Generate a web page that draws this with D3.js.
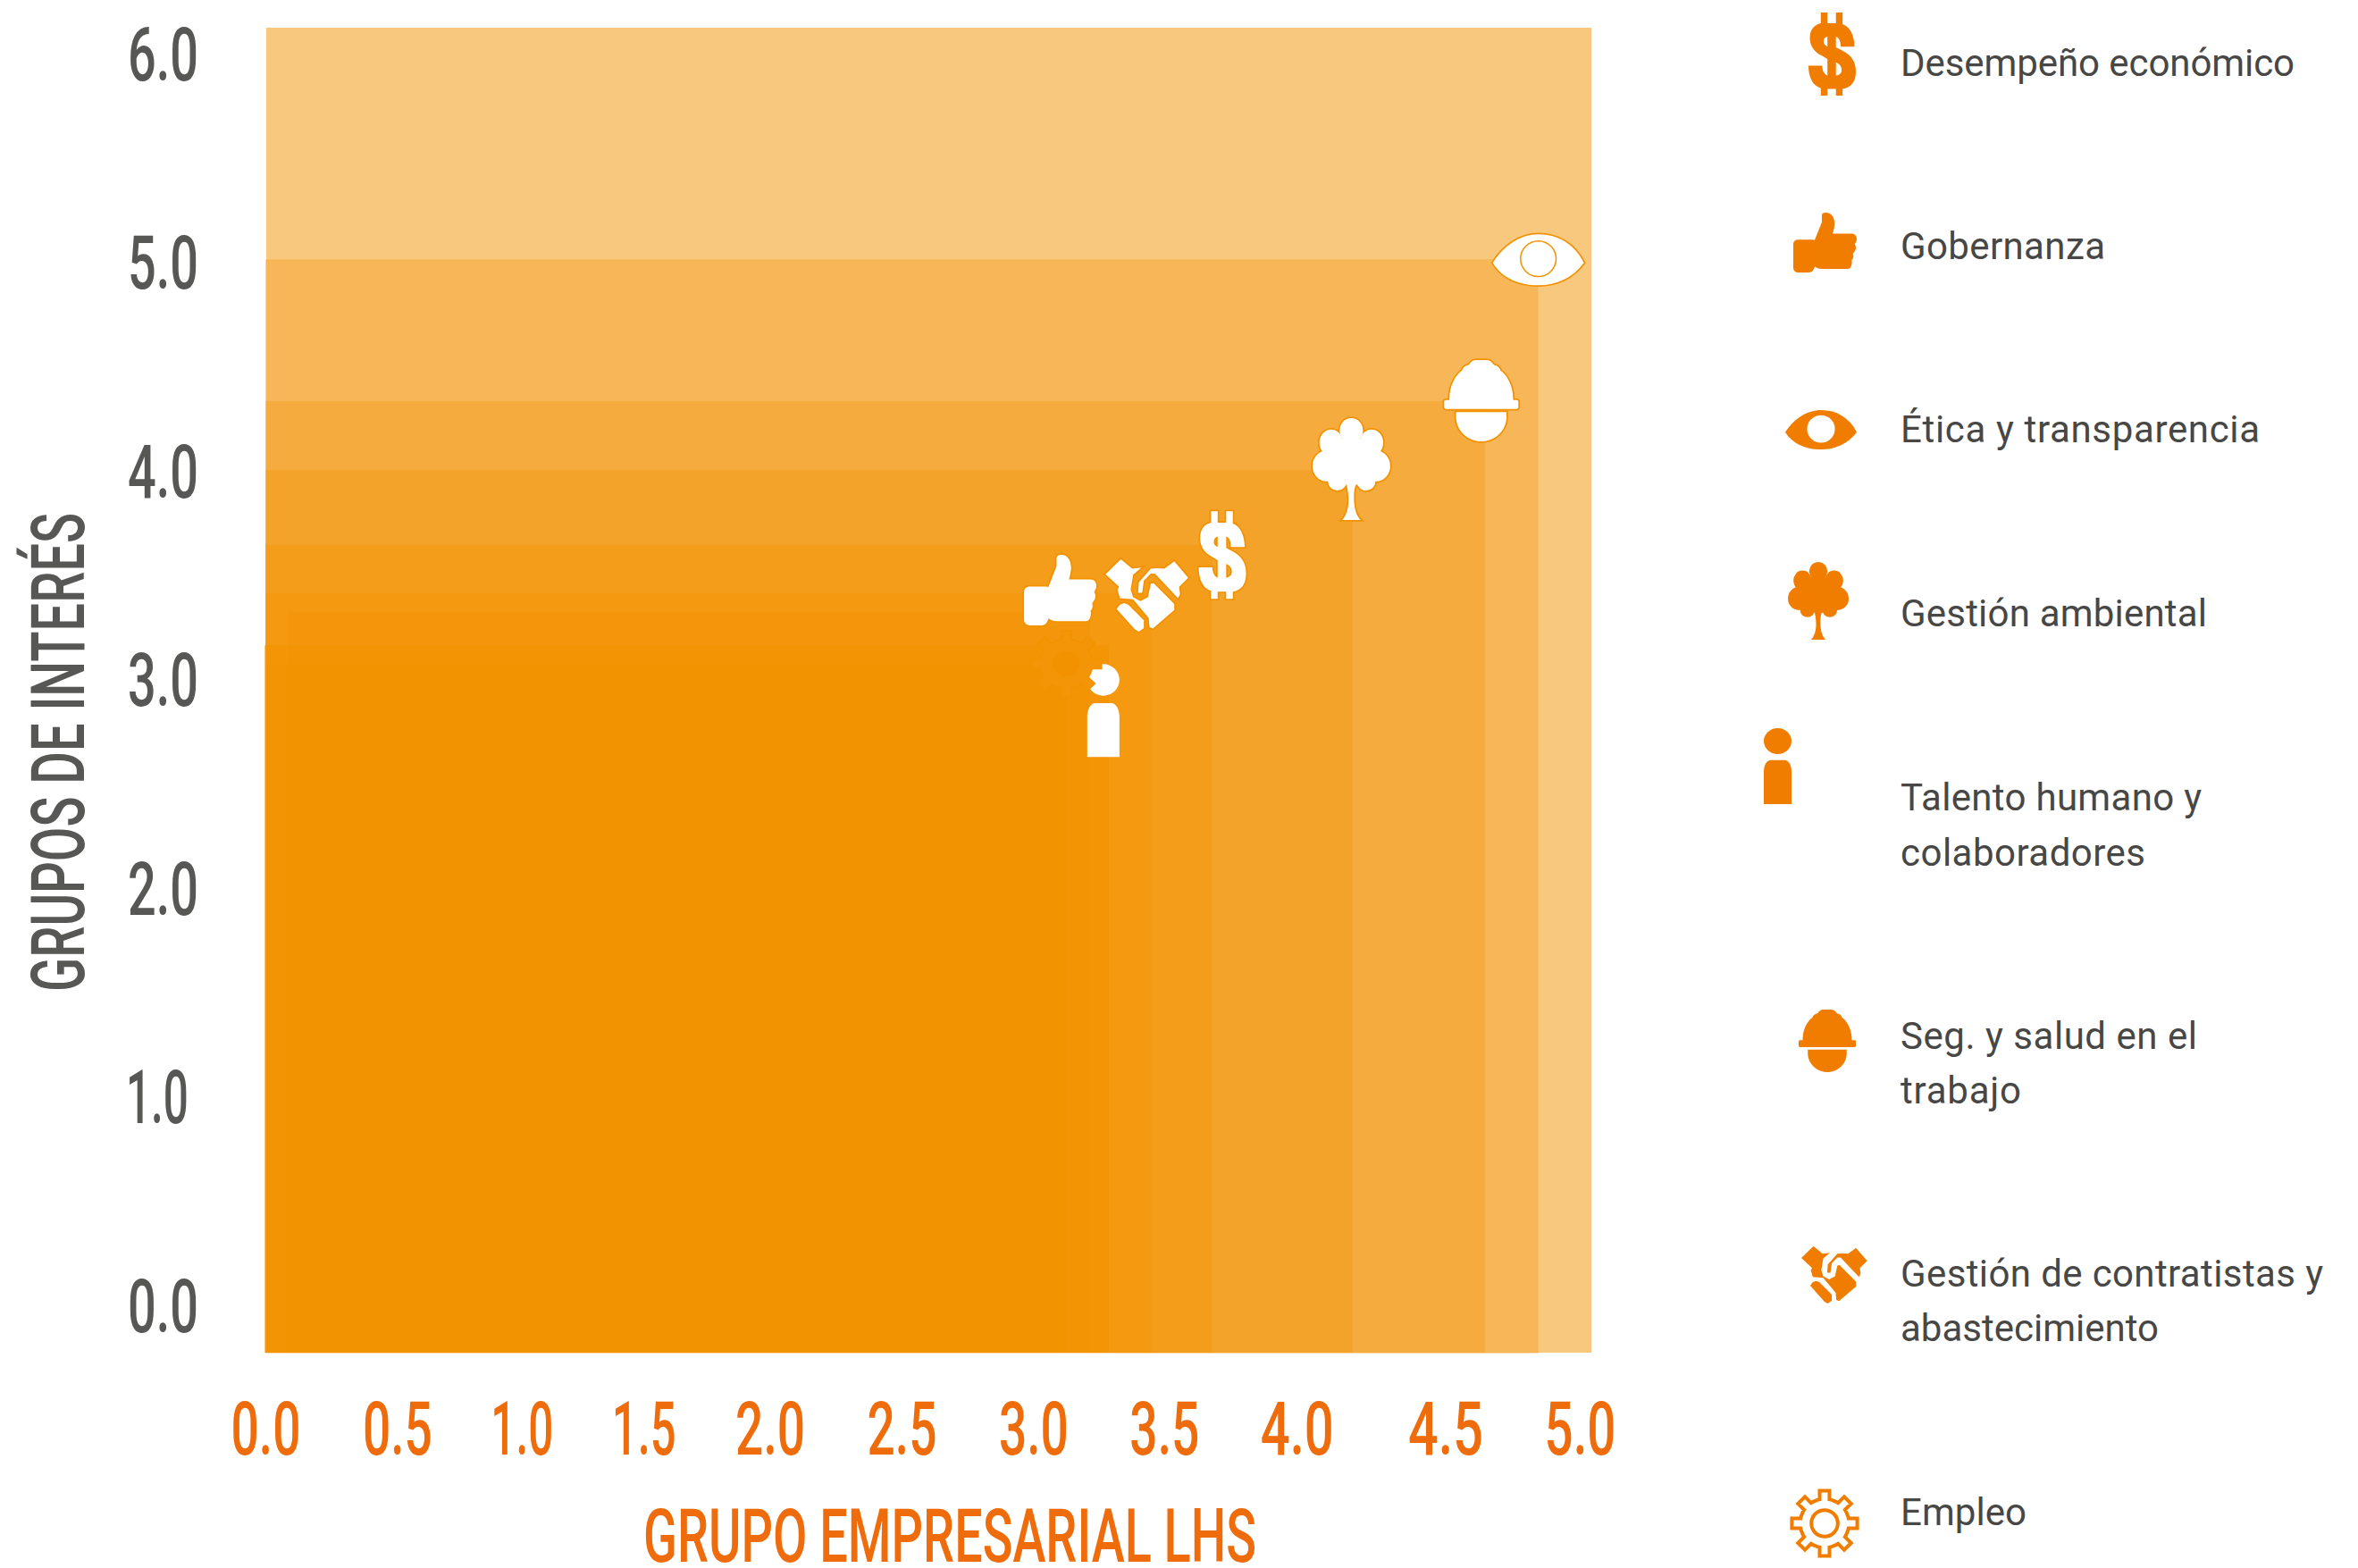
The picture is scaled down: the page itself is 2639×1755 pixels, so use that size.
<!DOCTYPE html>
<html>
<head>
<meta charset="utf-8">
<script src="https://cdn.jsdelivr.net/npm/d3@7"></script>
<style>
body{margin:0;background:#fff;}
svg{display:block;}
text{font-family:Roboto,sans-serif;}
</style>
</head>
<body>
<div class="map"></div>
<script>
// values, largest square first
var icons = ["eye","helmet","tree","dollar","handshake","thumb","person","gear"];
var scoreLHS = [4.80,4.60,4.10,3.57,3.34,3.11,3.18,3.02];
var scoreGroups = [5.01,4.33,4.00,3.64,3.41,3.32,3.16,3.07];
var startLHS = [0,0,0,0,0,0.085,-0.003,0];
var frameLHS = 5.0, frameGroups = 6.12, axisFloor = -0.23;

var xTicks = [0,0.5,1,1.5,2,2.5,3,3.5,4,4.5,5];
var yTicks = [0,1,2,3,4,5,6];
var xTitle = "GRUPO EMPRESARIAL LHS";
var yTitle = "GRUPOS DE INTERÉS";

var legendIcons = ["dollar","thumb","eye","tree","person","helmet","handshake","gear"];
var legendLines = [
	["Desempeño económico"],["Gobernanza"],["Ética y transparencia"],["Gestión ambiental"],
	["Talento humano y","colaboradores"],["Seg. y salud en el","trabajo"],
	["Gestión de contratistas y","abastecimiento"],["Empleo"]
];

// layout, in px
var layerOpacity = [0.3,0.3,0.3,0.36,0.36,0.3,0.6,0.3];
var xTickNudge = [0,-1,-10,-22,-29,-30,-31,-33,-33,-15,-13];
var xTickWidth = [78,78,70,72,78,78,78,78,82,84,80];
var legendWidths = [[441],[229],[402],[343],[337,274],[332,135],[473,289],[141]];
var legendBase = [[85],[290],[495],[701],[907,969],[1174,1235],[1440,1501],[1707]];
var legendBox = [[2024,14,53,93],[2007,238,71,67],[1998,459,80,44],[2001,629,68,87],[1974,815,31,85],[2013,1130,64,70],[2016,1394,74,65],[2005,1668,74,74]];
// chart icon box, relative to the corner of its square
var chartBox = [[-51,-28,102,57],[-46,-46,83,91],[-45,-58,87,114],[-15,-38,53,98],[-51,-39,93,82],[-74,-64,81,79],[-24,21,36,104],[-40,-38,80,75]];

var width = 2639, height = 1755;
var orange = "#f39200", legendOrange = "#f07d00";
var svg = d3.select(".map").append("svg").attr("width", width).attr("height", height);
var x = d3.scaleLinear().domain([0,5]).range([297,1781]);
var y = d3.scaleLinear().domain([axisFloor,frameGroups]).range([1514,31]);

function ell(cx,cy,rx,ry){
	return "M"+(cx-rx)+" "+cy+"a"+rx+" "+ry+" 0 1 0 "+(2*rx)+" 0a"+rx+" "+ry+" 0 1 0 "+(-2*rx)+" 0Z";
}
function gearPath(){
	var pts = [], n = 8;
	for(var i=0;i<n;i++){
		var a = i/n*2*Math.PI;
		[[-0.30,37],[-0.20,37],[-0.15,50],[0.15,50],[0.20,37],[0.30,37]].forEach(function(p){
			pts.push((50+p[1]*Math.sin(a+p[0]))+" "+(50-p[1]*Math.cos(a+p[0])));
		});
	}
	return "M"+pts.join("L")+"Z";
}
var shapes = {
	dollar:{box:[0,0,100,100],d:["M26 0H40V13H58V0H72V14C88 17 97 28 97 41H68C68 34 64 30 58 29V42L72 46C92 52 100 60 100 71C100 84 90 90 72 92V100H58V92H40V100H26V91C9 88 0 78 0 64H29C29 70 33 74 40 76V56L28 52C10 47 3 39 3 31C3 20 12 15 26 13ZM40 29C34 30 32 32 32 35C32 38 34 39 40 41ZM58 60V76C66 75 70 73 70 69C70 65 66 62 58 60Z"]},
	thumb:{box:[0,0,100,100],d:["M8 45H30C33 45 33 47 34 45L45 16V5C45 1 48 0 52 0C60 0 65 8 65 18C65 25 63 32 62 35H92C97 35 100 39 100 44C100 48 98 50 97 53C99 56 99 60 98 62C97 65 95 67 94 69C96 72 94 78 92 79C93 84 92 94 86 94H45C40 94 36 92 34 90C32 96 30 100 24 100H8C3 100 0 96 0 92V53C0 48 3 45 8 45Z"]},
	eye:{box:[0,0,100,100],d:["M0 56C12 22 30 0 50 0C72 0 90 20 100 56C88 85 70 100 50 100C28 100 10 85 0 56Z"],hole:[ell(50,48,19.5,35)]},
	tree:{box:[0,0,100,100],d:[ell(50,12,15,12),ell(24,24,15,13),ell(76,24,15,13),ell(18,47,18,15),ell(82,47,18,15),ell(32,62,12,9),ell(69,62,12,9),ell(50,42,30,24),"M44 65C46 72 47 80 46 85C45 92 42 97 38 100H62C58 97 55 92 54 85C53 78 53 70 56 65Z"]},
	person:{box:[0,0,100,100],d:[ell(50,17,50,17),"M0 100V57C0 48 12 42 25 42H75C88 42 100 48 100 57V100Z"]},
	helmet:{box:[0,0,100,100],d:["M7 50V48C7 30 17 17 24 13C25 9 28 7 33 6C36 2 39 0 43 0H57C61 0 64 2 67 6C72 7 75 9 76 13C83 17 93 30 93 48V50Z","M2 49H98C99.5 49 100 50 100 51V58C100 59 99 60 98 60H2C1 60 0 59 0 58V51C0 50 1 49 2 49Z","M16 64H84V70C84 87 68 100 50 100C32 100 16 87 16 70Z"]},
	handshake:{box:[295,255,202,245],d:[
		"M295 308L332 258L360 290L382 286L362 310L356 360L362 385L380 398L398 385L405 340L412 338L462 408L462 428L410 490L402 485L400 455L362 392L330 388L324 360L328 350Z",
		"M438 290L462 265L496 320L474 350L476 375L471 388L415 306L405 306L388 330L384 370L374 370L376 335L405 290L420 288Z",
		"M340 405L350 410L388 462L388 488L376 500L366 492L322 425L330 410Z"]},
	gear:{box:[0,0,100,100],d:[gearPath()],hole:[ell(50,50,20,20)]}
};

function place(g,name,box){
	var b = shapes[name].box;
	return g.attr("transform","translate("+box[0]+","+box[1]+") scale("+box[2]/b[2]+","+box[3]/b[3]+") translate("+(-b[0])+","+(-b[1])+")");
}
function addPaths(g,list,fill,stroke,sw){
	g.selectAll(null).data(list).enter().append("path")
		.attr("d",function(d){return d;})
		.attr("fill",fill).attr("fill-rule","evenodd")
		.attr("stroke",stroke).attr("stroke-width",sw)
		.attr("vector-effect","non-scaling-stroke");
}

// stacked squares, every one translucent over the previous ones
svg.append("rect").attr("x",x(0.003)).attr("y",y(frameGroups))
	.attr("width",x(frameLHS)-x(0.003)).attr("height",y(axisFloor)-y(frameGroups))
	.attr("fill",orange).attr("opacity",0.5);
svg.selectAll("rect.layer").data(icons).enter().append("rect").attr("class","layer")
	.attr("x",function(d,i){return x(startLHS[i]);})
	.attr("y",function(d,i){return y(scoreGroups[i]);})
	.attr("width",function(d,i){return x(scoreLHS[i])-x(startLHS[i]);})
	.attr("height",function(d,i){return y(axisFloor)-y(scoreGroups[i])+(i==0?1:0);})
	.attr("fill",orange).attr("opacity",function(d,i){return layerOpacity[i];});

// chart icons
icons.forEach(function(name,i){
	var box = chartBox[i];
	var g = place(svg.append("g"),name,[x(scoreLHS[i])+box[0],y(scoreGroups[i])+box[1],box[2],box[3]]);
	var s = shapes[name];
	if(name=="gear"){
		addPaths(g,s.d,"#f39506","#f39300",1.5);
		addPaths(g,s.hole,"#f39200","#f39506",2);
		return;
	}
	if(name!="person") addPaths(g,s.d,"none",orange,3.5);
	addPaths(g,s.d,"#fff","none",0);
	if(s.hole) addPaths(g,s.hole,"#fff",orange,1.5);
});

// axes
var xAxis = svg.append("g").attr("transform","translate(0,1514)")
	.call(d3.axisBottom(x).tickValues(xTicks).tickSize(0).tickFormat(d3.format(".1f")));
xAxis.select(".domain").remove();
xAxis.selectAll("text")
	.attr("y",114).attr("dy",0)
	.attr("dx",function(d,i){return xTickNudge[i];})
	.attr("font-size",84).attr("font-weight",500).attr("fill","#ee6c0c")
	.attr("textLength",function(d,i){return xTickWidth[i];}).attr("lengthAdjust","spacingAndGlyphs");
var yAxis = svg.append("g")
	.call(d3.axisLeft(y).tickValues(yTicks).tickSize(0).tickFormat(d3.format(".1f")));
yAxis.select(".domain").remove();
yAxis.selectAll("text")
	.attr("x",function(d){return d==1?141:143;}).attr("dy",30).attr("text-anchor","start")
	.attr("font-size",84).attr("font-weight",500).attr("fill","#575756")
	.attr("textLength",function(d){return d==1?70:79;}).attr("lengthAdjust","spacingAndGlyphs");

svg.append("text").text(xTitle).attr("x",720).attr("y",1748)
	.attr("font-size",84).attr("font-weight",500).attr("fill","#ee6c0c")
	.attr("textLength",686).attr("lengthAdjust","spacingAndGlyphs");
svg.append("text").text(yTitle).attr("transform","translate(94,1110) rotate(-90)")
	.attr("font-size",84).attr("font-weight",500).attr("fill","#575756")
	.attr("textLength",536).attr("lengthAdjust","spacingAndGlyphs");

// legend
legendIcons.forEach(function(name,i){
	var g = place(svg.append("g"),name,legendBox[i]);
	var s = shapes[name];
	if(name=="gear"){
		addPaths(g,s.d,"none",legendOrange,4);
		addPaths(g,s.hole,"none",legendOrange,4);
	}else{
		addPaths(g,s.d,legendOrange,"none",0);
		if(s.hole) addPaths(g,s.hole,"#fff","none",0);
	}
	legendLines[i].forEach(function(line,j){
		svg.append("text").text(line).attr("x",2127).attr("y",legendBase[i][j])
			.attr("font-size",42).attr("fill","#474746")
			.attr("textLength",legendWidths[i][j]);
	});
});
</script>
</body>
</html>
